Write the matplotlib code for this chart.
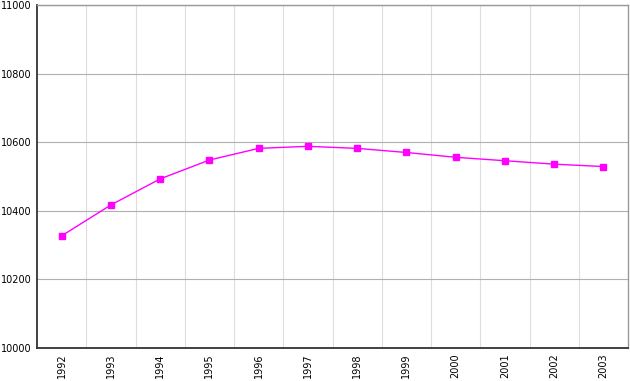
import matplotlib.pyplot as plt
from matplotlib.ticker import FixedLocator

years = ['1992', '1993', '1994', '1995', '1996', '1997',
         '1998', '1999', '2000', '2001', '2002', '2003']
population = [10327, 10417, 10493, 10548, 10582, 10588,
              10582, 10570, 10556, 10546, 10536, 10529]

fig = plt.figure(figsize=(6.3, 3.81), dpi=100)
ax = fig.add_axes([37 / 630, 1 - 348 / 381, 591 / 630, 343 / 381])

x = list(range(len(years)))
ax.plot(x, population, color='#ff00ff', linewidth=1, marker='s',
        markersize=4.5, markerfacecolor='#ff00ff', markeredgecolor='#ff00ff')

ax.set_xlim(-0.5, len(years) - 0.5)
ax.set_ylim(10000, 11000)
ax.set_yticks(range(10000, 11001, 200))
ax.set_xticks(x)
ax.set_xticklabels(years, rotation=90)
ax.xaxis.set_minor_locator(FixedLocator([i + 0.5 for i in x[:-1]]))

ax.grid(axis='y', which='major', color='#b0b0b0', linewidth=0.8)
ax.grid(axis='x', which='minor', color='#dddddd', linewidth=0.8)
ax.set_axisbelow(True)

ax.tick_params(axis='both', which='both', length=0, labelsize=7, pad=4)

for side in ['left', 'bottom']:
    ax.spines[side].set_color('#333333')
    ax.spines[side].set_linewidth(1.3)
for side in ['top', 'right']:
    ax.spines[side].set_color('#999999')
    ax.spines[side].set_linewidth(1)

fig.savefig('out.png', dpi=100)
